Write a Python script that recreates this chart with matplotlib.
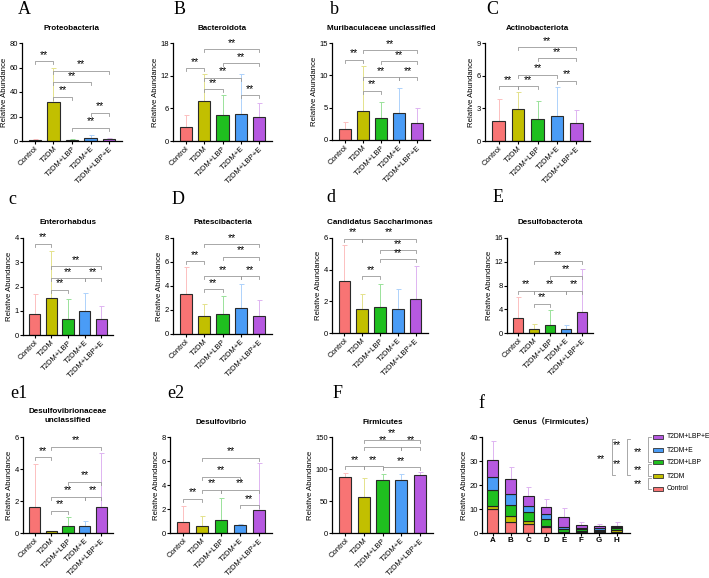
import matplotlib
matplotlib.use("Agg")
import matplotlib.pyplot as plt
from matplotlib.patches import Rectangle
from matplotlib.lines import Line2D
import numpy as np

plt.rcParams['font.family'] = ['Liberation Sans', 'Noto Sans CJK SC']

groups = ['Control', 'T2DM', 'T2DM+LBP', 'T2DM+E', 'T2DM+LBP+E']
colors = ['#f87474', '#c2bf00', '#1fbf1f', '#4a9cf6', '#b659e0']

# means, tops of error bars, significance pairs (i, j, bracket height)
A_mean = [0.8, 31.5, 1.2, 2.8, 1.5]
A_top = [1.3, 60, 2.0, 4.5, 2.5]
A_pairs = [(0, 1, 65), (1, 4, 57.5), (1, 3, 48), (1, 2, 36), (3, 4, 23), (2, 4, 10.7)]

B_mean = [2.6, 7.4, 4.7, 4.9, 4.4]
B_top = [4.7, 12.3, 8.4, 12.3, 7.0]
B_pairs = [(0, 1, 13.4), (1, 4, 16.9), (2, 4, 14.3), (1, 3, 11.65), (1, 2, 9.5), (3, 4, 8.4)]

b_mean = [1.65, 4.55, 3.47, 4.14, 2.7]
b_top = [2.85, 11.5, 5.95, 8.0, 4.9]
b_pairs = [(0, 1, 12.4), (1, 4, 13.9), (2, 4, 12.2), (1, 3, 9.7), (3, 4, 9.7), (1, 2, 7.65)]

C_mean = [1.82, 2.93, 2.0, 2.3, 1.66]
C_top = [3.82, 4.5, 3.7, 4.93, 2.84]
C_pairs = [(0, 1, 5.05), (1, 4, 8.6), (2, 4, 7.6), (1, 3, 6.07), (1, 2, 5.05), (3, 4, 5.55)]

c_mean = [0.87, 1.52, 0.65, 1.0, 0.65]
c_top = [1.68, 3.45, 1.48, 1.75, 1.2]
c_pairs = [(0, 1, 3.77), (1, 4, 2.83), (1, 3, 2.34), (3, 4, 2.34), (1, 2, 1.86)]

D_mean = [3.32, 1.52, 1.63, 2.19, 1.52]
D_top = [5.6, 2.49, 3.16, 4.2, 2.82]
D_pairs = [(0, 1, 6.06), (1, 4, 7.47), (2, 4, 6.42), (1, 3, 4.82), (3, 4, 4.82), (1, 2, 3.74)]

d_mean = [3.3, 1.53, 1.63, 1.53, 2.15]
d_top = [5.54, 2.47, 3.09, 2.78, 4.22]
d_pairs = [(0, 1, 5.96), (1, 4, 5.96), (2, 4, 5.23), (2, 4, 4.66), (1, 2, 3.6)]

E_mean = [2.45, 0.67, 1.39, 0.72, 3.46]
E_top = [6.13, 1.5, 3.9, 1.39, 10.7]
E_pairs = [(0, 1, 7.08), (1, 4, 12.1), (2, 4, 9.64), (1, 3, 7.14), (3, 4, 7.14), (1, 2, 4.9)]

e1_mean = [1.61, 0.1, 0.41, 0.41, 1.61]
e1_top = [4.34, 0.12, 1.03, 0.77, 4.97]
e1_pairs = [(0, 1, 4.72), (1, 4, 5.38), (2, 4, 3.2), (1, 3, 2.28), (3, 4, 2.28), (1, 2, 1.39)]

e2_mean = [0.92, 0.61, 1.06, 0.69, 1.89]
e2_top = [2.22, 1.39, 2.94, 0.72, 5.83]
e2_pairs = [(0, 1, 2.86), (1, 4, 6.28), (1, 3, 4.67), (1, 2, 3.61), (2, 4, 3.61), (3, 4, 2.31)]

F_mean = [87, 56.25, 83.3, 82.3, 91.1]
F_top = [93.75, 86, 92, 92, 94.8]
F_pairs = [(0, 1, 104), (1, 2, 104), (2, 4, 103), (1, 3, 135), (3, 4, 135), (1, 4, 146)]

genus_cats = ['A', 'B', 'C', 'D', 'E', 'F', 'G', 'H']
genus_control = [10.0, 4.6, 3.9, 2.3, 0.3, 0.4, 0.4, 0.3]
genus_t2dm = [1.4, 2.3, 1.2, 0.6, 0.2, 0.3, 0.3, 1.1]
genus_lbp = [6.7, 4.6, 3.5, 2.9, 1.2, 0.8, 0.7, 0.5]
genus_e = [5.1, 4.75, 2.5, 2.0, 0.6, 0.6, 0.6, 0.6]
genus_lbpe = [7.4, 6.25, 4.2, 3.0, 4.2, 1.4, 1.0, 0.3]
genus_top = [38.2, 27.5, 19.2, 14.3, 10.4, 4.4, 3.6, 4.4]

W, H = 709, 578
fig = plt.figure(figsize=(7.09, 5.78), dpi=100)


def fx(x):
    return x / W


def fy(y):
    return 1 - y / H


def tint(c, f=0.55):
    r, g, b = matplotlib.colors.to_rgb(c)
    return (r + (1 - r) * f, g + (1 - g) * f, b + (1 - b) * f)


def make_ax(l, r, t, b):
    ax = fig.add_axes([fx(l), fy(b), (r - l) / W, (b - t) / H])
    for s in ['top', 'right']:
        ax.spines[s].set_visible(False)
    for s in ['left', 'bottom']:
        ax.spines[s].set_linewidth(0.9)
    ax.tick_params(direction='out', length=2, width=0.8, labelsize=5.5, pad=1)
    ax.set_ylabel('Relative Abundance', fontsize=5.6, labelpad=0.8)
    return ax


def panel(box, letter, letter_xy, title, title_y, mean, top, pairs, ymax, yticks):
    l, r, t, b = box
    ax = make_ax(l, r, t, b)
    x = np.arange(5)
    ax.bar(x, mean, width=0.66, color=colors, edgecolor='#2a2a2a', linewidth=0.8, zorder=2)
    err = np.array(top) - np.array(mean)
    for i in range(5):
        ax.errorbar(x[i], mean[i], yerr=[[0], [err[i]]], fmt='none', ecolor=tint(colors[i]),
                    elinewidth=0.7, capsize=1.8, capthick=0.7, zorder=1)
    ax.set_xlim(-0.7, 4.7)
    ax.set_ylim(0, ymax)
    ax.set_yticks(yticks)
    ax.set_xticks(x)
    ax.set_xticklabels(groups, rotation=45, ha='right', rotation_mode='anchor', fontsize=5.5)
    leg = 3.0 * ymax / (b - t)
    for i, j, y in pairs:
        ax.plot([i, i, j, j], [y - leg, y, y, y - leg], color='#9a9a9a', lw=0.6, clip_on=False, zorder=3)
        ax.annotate('**', ((i + j) / 2, y), xytext=(0, 4.6), textcoords='offset points',
                    ha='center', va='center', fontsize=7.5, annotation_clip=False)
    fig.text(fx(letter_xy[0]), fy(letter_xy[1]), letter, family='Liberation Serif', fontsize=13,
             ha='center', va='center')
    fig.text(fx((l + r) / 2), fy(title_y), title, fontsize=5.8, fontweight='bold',
             ha='center', va='center', linespacing=1.3)
    return ax


panel((22, 122, 43, 141), 'A', (24, 9), 'Proteobacteria', 29, A_mean, A_top, A_pairs, 80, [0, 20, 40, 60, 80])
panel((173, 272, 43, 141), 'B', (180, 9), 'Bacteroidota', 29, B_mean, B_top, B_pairs, 18, [0, 6, 12, 18])
panel((332, 430, 43, 140), 'b', (334, 9), 'Muribaculaceae unclassified', 29, b_mean, b_top, b_pairs, 15, [0, 5, 10, 15])
panel((485, 590, 43, 141), 'C', (492, 9), 'Actinobacteriota', 29, C_mean, C_top, C_pairs, 9, [0, 3, 6, 9])

panel((23, 113, 238, 335), 'c', (12, 199), 'Enterorhabdus', 223, c_mean, c_top, c_pairs, 4, [0, 1, 2, 3, 4])
panel((173, 272, 238, 334), 'D', (178, 199), 'Patescibacteria', 223, D_mean, D_top, D_pairs, 8, [0, 2, 4, 6, 8])
panel((332, 428, 238, 333), 'd', (331, 198), 'Candidatus Saccharimonas', 223, d_mean, d_top, d_pairs, 6, [0, 2, 4, 6])
panel((507, 593, 238, 333), 'E', (498, 198), 'Desulfobacterota', 222, E_mean, E_top, E_pairs, 16, [0, 4, 8, 12, 16])

panel((23, 113, 437, 533), 'e1', (19, 393), 'Desulfovibrionaceae\nunclassified', 416, e1_mean, e1_top, e1_pairs, 6, [0, 2, 4, 6])
panel((170, 272, 437, 533), 'e2', (176, 393), 'Desulfovibrio', 422, e2_mean, e2_top, e2_pairs, 8, [0, 2, 4, 6, 8])
panel((332, 433, 437, 533), 'F', (338, 393), 'Firmicutes', 422, F_mean, F_top, F_pairs, 150, [0, 50, 100, 150])

# stacked genus panel
ax = make_ax(482, 630, 437, 533)
xg = np.arange(len(genus_cats))
stack = [genus_control, genus_t2dm, genus_lbp, genus_e, genus_lbpe]
bottom = np.zeros(len(genus_cats))
for vals, col in zip(stack, colors):
    ax.bar(xg, vals, bottom=bottom, width=0.62, color=col, edgecolor='#222222', linewidth=0.8, zorder=2)
    bottom = bottom + np.array(vals)
ax.errorbar(xg, bottom, yerr=[np.zeros(len(xg)), np.array(genus_top) - bottom], fmt='none',
            ecolor=tint(colors[4]), elinewidth=0.7, capsize=1.8, capthick=0.7, zorder=1)
ax.set_xlim(-0.62, 7.75)
ax.set_ylim(0, 40)
ax.set_yticks([0, 10, 20, 30, 40])
ax.set_xticks(xg)
ax.set_xticklabels(genus_cats, fontsize=5.8, fontweight='bold')
fig.text(fx(481), fy(403), 'f', family='Liberation Serif', fontsize=13, ha='center', va='center')
fig.text(fx(553), fy(422), 'Genus（Firmicutes）', fontsize=5.8, fontweight='bold', ha='center', va='center')

# legend for stacked panel
leg_y = [489, 476, 462, 450, 437]
for yy, col, name in zip(leg_y, colors, groups):
    fig.add_artist(Rectangle((fx(653), fy(yy + 2)), 10 / W, 4 / H, transform=fig.transFigure,
                             facecolor=col, edgecolor='#333333', linewidth=0.6))
    fig.text(fx(667), fy(yy), name, fontsize=4.9, ha='left', va='center')


def vbracket(x, y1, y2, tick=3):
    fig.add_artist(Line2D([fx(x + tick), fx(x), fx(x), fx(x + tick)], [fy(y1), fy(y1), fy(y2), fy(y2)],
                          transform=fig.transFigure, color='#9a9a9a', lw=0.6))


def stars(x, y):
    fig.text(fx(x), fy(y), '**', fontsize=7.5, ha='center', va='center')


vbracket(648, 437, 462)
stars(638, 452)
vbracket(648, 464, 476)
stars(638, 470)
vbracket(648, 478, 489)
stars(638, 484)
vbracket(627, 439, 475)
stars(617, 445)
stars(617, 464)
vbracket(612, 439, 475)
stars(601, 459)

fig.savefig('out.png', dpi=100)
